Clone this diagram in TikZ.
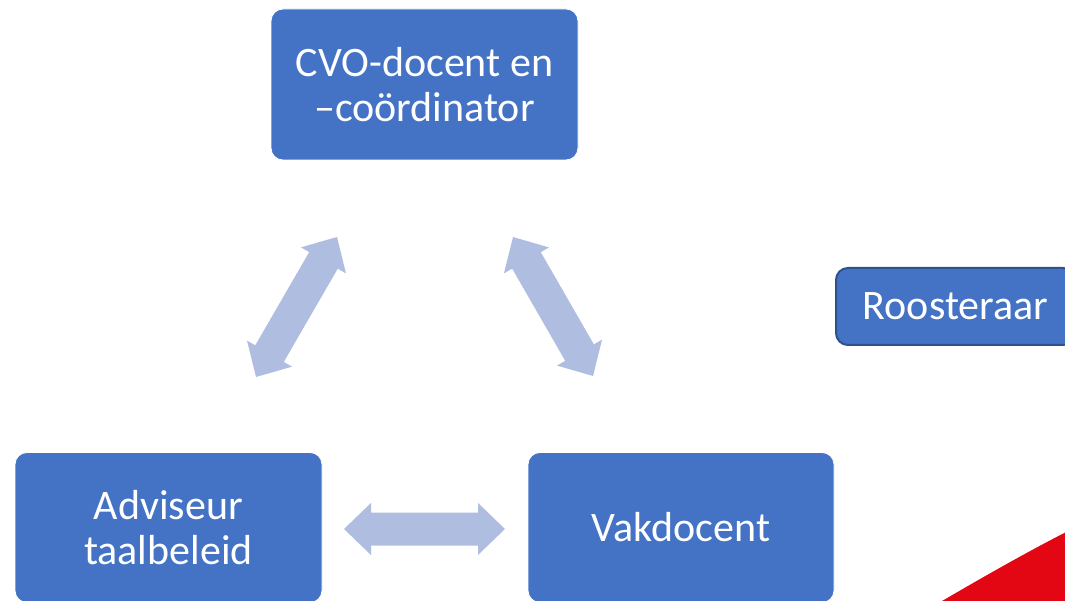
\documentclass[tikz,border=0pt]{standalone}
\usepackage{fontspec}
\setmainfont{Carlito}
\usetikzlibrary{calc}
\definecolor{boxblue}{RGB}{68,114,196}
\definecolor{boxedge}{RGB}{47,82,143}
\definecolor{arrowblue}{RGB}{175,189,224}
\definecolor{flagred}{RGB}{227,6,19}
\tikzset{
  role/.style={rectangle, rounded corners=12pt, fill=boxblue, draw=white, line width=0.8pt,
    text=white, align=center, inner sep=0pt,
    font=\fontsize{42}{45}\selectfont},
  arrowfill/.style={fill=arrowblue, draw=none},
}
\newcommand\dblarr[3]{%
  \coordinate (#1-a) at #2;
  \coordinate (#1-b) at #3;
  \coordinate (#1-h1) at ($(#1-a)!27pt!(#1-b)$);
  \coordinate (#1-h2) at ($(#1-b)!27pt!(#1-a)$);
  \fill[arrowfill] (#1-a)
    -- ($(#1-h1)!26pt!90:(#1-a)$)
    -- ($(#1-h1)!16.5pt!90:(#1-a)$)
    -- ($(#1-h2)!16.5pt!90:(#1-a)$)
    -- ($(#1-h2)!26pt!90:(#1-a)$)
    -- (#1-b)
    -- ($(#1-h2)!26pt!-90:(#1-a)$)
    -- ($(#1-h2)!16.5pt!-90:(#1-a)$)
    -- ($(#1-h1)!16.5pt!-90:(#1-a)$)
    -- ($(#1-h1)!26pt!-90:(#1-a)$)
    -- cycle;
}
\begin{document}
\begin{tikzpicture}[x=1pt,y=-1pt]
\useasboundingbox (0,0) rectangle (1065,601);
\fill[white] (0,0) rectangle (1065,601);
% red corner shape
\fill[flagred] (942,601) .. controls (985,576) and (1025,553) .. (1072,529) -- (1072,606) -- (942,606) -- cycle;
% boxes
\node[role, minimum width=307pt, minimum height=151pt] (cvo) at (424.5,84.5) {CVO-docent en\\–coördinator};
\node[role, minimum width=307pt, minimum height=150pt] (adv) at (168.5,527.5) {Adviseur\\taalbeleid};
\node[role, minimum width=306pt, minimum height=150pt] (vak) at (681,527.5) {Vakdocent};
\node[role, draw=boxedge, line width=2pt, minimum width=239pt, minimum height=77pt] (roo) at (955.5,306.5) {Roosteraar};
% double arrows
\dblarr{left}{(256,377)}{(337,237)}
\dblarr{right}{(513,237)}{(593,376)}
\dblarr{bottom}{(344,529)}{(505,529)}
\end{tikzpicture}
\end{document}
